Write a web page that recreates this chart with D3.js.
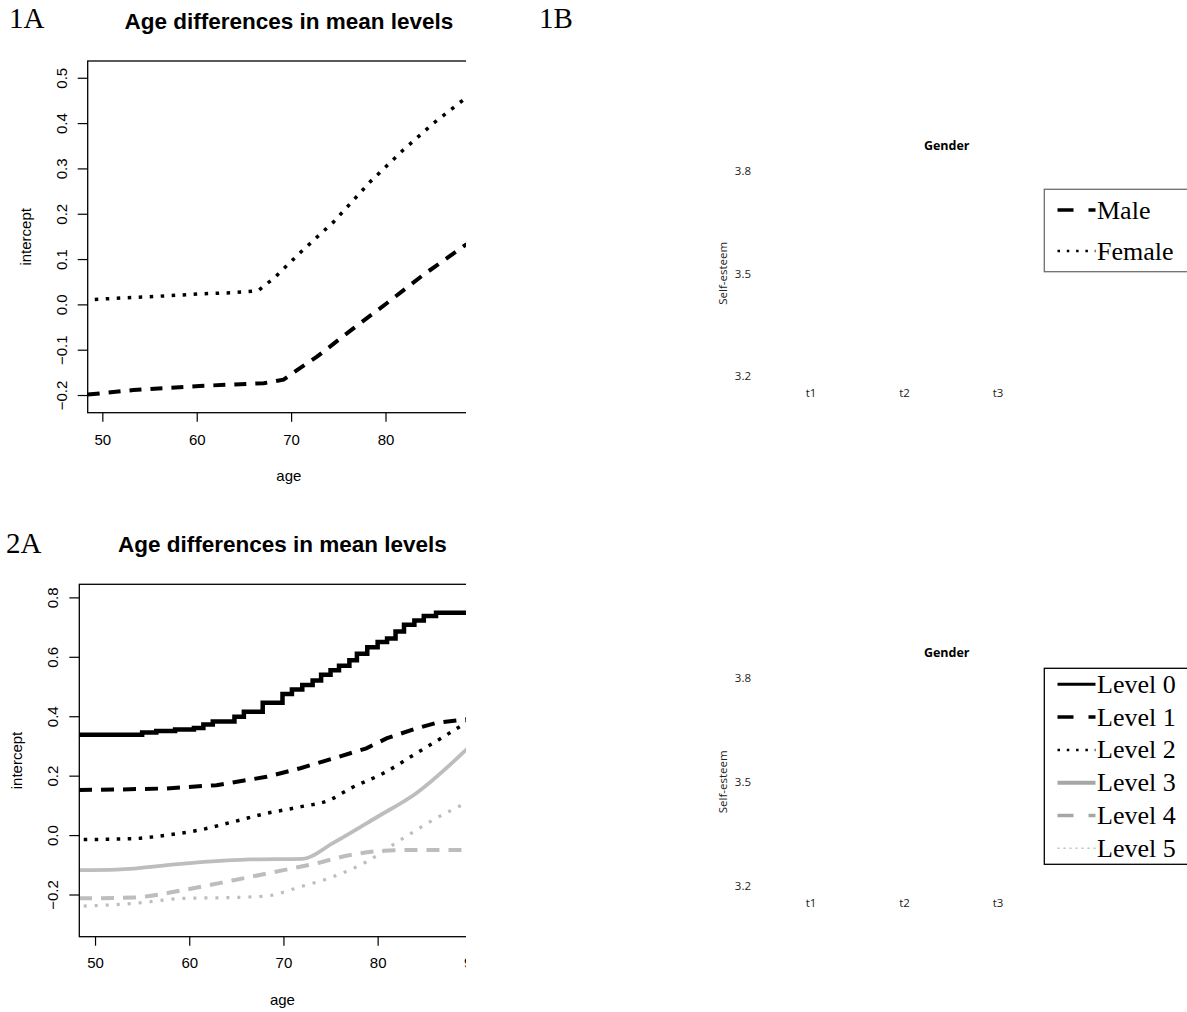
<!DOCTYPE html>
<html>
<head>
<meta charset="utf-8">
<script src="https://cdn.jsdelivr.net/npm/d3@7"></script>
<style>
  body { margin: 0; background: #fff; }
  svg { display: block; }
</style>
</head>
<body>
<svg id="fig" width="1187" height="1012"></svg>
<script>
// 1A: intercept by age, by gender
const femaleAges = [49.2, 52, 56, 60.3, 64, 66.5, 68.3, 70.9, 74.5, 78.4, 81.9, 85.1, 88.6];
const femaleVals = [0.011, 0.014, 0.018, 0.023, 0.026, 0.030, 0.060, 0.113, 0.182, 0.271, 0.341, 0.400, 0.457];
const maleAges = [48.45, 53.3, 60.3, 67.1, 69.2, 70.9, 72.7, 76.6, 80.1, 84.0, 88.6];
const maleVals = [-0.199, -0.189, -0.180, -0.174, -0.166, -0.141, -0.116, -0.053, 0.002, 0.065, 0.133];

// 2A: intercept by age, by level
const level0Ages = [48.3, 55, 56.5, 58.5, 60.5, 61.5, 62.5, 64.8, 65.8, 67.8, 69.9, 70.9, 72.0, 73.1, 74.0,
  75.0, 75.9, 77.0, 77.8, 78.9, 80.0, 81.0, 81.9, 82.8, 83.9, 84.9, 86.2, 89.5];
const level0Vals = [0.338, 0.345, 0.350, 0.355, 0.360, 0.372, 0.382, 0.398, 0.415, 0.445, 0.475, 0.490, 0.505, 0.520, 0.540,
  0.555, 0.570, 0.588, 0.610, 0.632, 0.650, 0.662, 0.685, 0.708, 0.722, 0.737, 0.748, 0.752];
const level1Ages = [48.3, 52, 57.6, 62.9, 68.2, 71.8, 75.3, 78.8, 81.0, 84.1, 86.3, 89.5];
const level1Vals = [0.152, 0.153, 0.157, 0.168, 0.196, 0.225, 0.258, 0.292, 0.326, 0.359, 0.378, 0.390];
const level2Ages = [48.8, 54.1, 57.6, 61.1, 64.7, 68.2, 71.8, 74.9, 77.1, 80.6, 84.1, 87.0, 89.5];
const level2Vals = [-0.015, -0.012, 0.0, 0.017, 0.045, 0.073, 0.095, 0.118, 0.157, 0.208, 0.275, 0.331, 0.380];
const level3Ages = [48.3, 52.3, 59.7, 66.5, 72.0, 75.3, 79.9, 84.1, 89.5];
const level3Vals = [-0.118, -0.116, -0.095, -0.082, -0.080, -0.026, 0.060, 0.141, 0.290];
const level4Ages = [48.3, 54.1, 59.4, 64.7, 70.0, 73.5, 77.1, 80.6, 84.1, 89.5];
const level4Vals = [-0.213, -0.210, -0.185, -0.152, -0.118, -0.095, -0.067, -0.053, -0.050, -0.050];
const level5Ages = [48.8, 54.1, 59.4, 64.7, 68.2, 71.8, 75.3, 78.8, 82.4, 85.9, 89.5];
const level5Vals = [-0.239, -0.230, -0.213, -0.210, -0.205, -0.174, -0.140, -0.090, -0.017, 0.051, 0.110];

// 1B / 2B: empty excel charts, only labels left
const esteemTicks = [3.2, 3.5, 3.8];
const waves = ['t1', 't2', 't3'];
const genderLegend = ['Male', 'Female'];
const levelLegend = ['Level 0', 'Level 1', 'Level 2', 'Level 3', 'Level 4', 'Level 5'];

const rFont = '"Liberation Sans", Arial, sans-serif';
const xlFont = '"Open Sans", "Noto Sans", sans-serif';
const serif = '"Liberation Serif", "Times New Roman", serif';
const gray = '#bdbdbd';

const svg = d3.select('#fig');
svg.append('defs').append('clipPath').attr('id', 'leftClip')
  .append('rect').attr('x', 0).attr('y', 0).attr('width', 466).attr('height', 1012);

// panel letters
[['1A', 9, 28], ['1B', 539, 28], ['2A', 6, 553]].forEach(([t, x, y]) => {
  svg.append('text').attr('x', x).attr('y', y)
    .style('font-family', serif).style('font-size', '29px').text(t);
});

// R style panel, right side got cut off in the original figure
function agePanel(opt) {
  const g = svg.append('g').attr('clip-path', 'url(#leftClip)');
  const x = d3.scaleLinear().domain(opt.xDomain).range(opt.xRange);
  const y = d3.scaleLinear().domain(opt.yDomain).range(opt.yRange);
  const mid = (opt.xRange[0] + opt.xRange[1]) / 2;

  g.append('text').attr('x', mid).attr('y', opt.yRange[1] - 32)
    .attr('text-anchor', 'middle')
    .style('font-family', rFont).style('font-size', '22.5px').style('font-weight', 'bold')
    .text('Age differences in mean levels');

  const line = d3.line().x(d => x(d[0])).y(d => y(d[1]));
  opt.series.forEach(s => {
    g.append('path')
      .datum(d3.zip(s.ages, s.vals))
      .attr('d', line.curve(s.curve || d3.curveLinear))
      .attr('fill', 'none')
      .attr('stroke', s.color)
      .attr('stroke-width', s.width)
      .attr('stroke-dasharray', s.dash || null);
  });

  g.append('rect')
    .attr('x', opt.xRange[0]).attr('y', opt.yRange[1])
    .attr('width', opt.xRange[1] - opt.xRange[0])
    .attr('height', opt.yRange[0] - opt.yRange[1])
    .attr('fill', 'none').attr('stroke', '#000').attr('stroke-width', 1.3);

  const xa = g.append('g')
    .attr('transform', `translate(0,${opt.yRange[0]})`)
    .call(d3.axisBottom(x).tickValues(opt.xTicks).tickSize(9).tickFormat(d3.format('d')));
  xa.select('.domain').remove();
  xa.selectAll('line').attr('stroke', '#000').attr('stroke-width', 1.2);
  xa.selectAll('text').attr('y', opt.xLabOff).attr('dy', '0.71em')
    .style('font-family', rFont).style('font-size', '15px').attr('fill', '#000');

  const ya = g.append('g')
    .attr('transform', `translate(${opt.xRange[0]},0)`)
    .call(d3.axisLeft(y).tickValues(opt.yTicks).tickSize(10).tickFormat(d3.format('.1f')));
  ya.select('.domain').remove();
  ya.selectAll('line').attr('stroke', '#000').attr('stroke-width', 1.2);
  ya.selectAll('text')
    .attr('x', 0).attr('y', -21).attr('dy', 0)
    .attr('transform', 'rotate(-90)')
    .attr('text-anchor', 'middle')
    .style('font-family', rFont).style('font-size', '15px').attr('fill', '#000');

  g.append('text').attr('x', mid).attr('y', opt.ageY)
    .attr('text-anchor', 'middle')
    .style('font-family', rFont).style('font-size', '15px').text('age');
  g.append('text')
    .attr('transform', `translate(${opt.interceptX},${(opt.yRange[0] + opt.yRange[1]) / 2}) rotate(-90)`)
    .attr('text-anchor', 'middle')
    .style('font-family', rFont).style('font-size', '15px').text('intercept');
}

agePanel({
  xDomain: [48.45, 91.07], xRange: [87.7, 490],
  yDomain: [-0.239, 0.537], yRange: [412.7, 61],
  xTicks: [50, 60, 70, 80],
  yTicks: [-0.2, -0.1, 0, 0.1, 0.2, 0.3, 0.4, 0.5],
  xLabOff: 22, ageY: 481, interceptX: 31,
  series: [
    { ages: femaleAges, vals: femaleVals, color: '#000', width: 3.5, dash: '3.5,7.5' },
    { ages: maleAges, vals: maleVals, color: '#000', width: 4, dash: '12,9' }
  ]
});

agePanel({
  xDomain: [48.33, 91.45], xRange: [79.3, 485.5],
  yDomain: [-0.342, 0.844], yRange: [936.7, 584.3],
  xTicks: [50, 60, 70, 80, 90],
  yTicks: [-0.2, 0, 0.2, 0.4, 0.6, 0.8],
  xLabOff: 21, ageY: 1005, interceptX: 22,
  series: [
    { ages: level5Ages, vals: level5Vals, color: gray, width: 3.2, dash: '3,8', curve: d3.curveMonotoneX },
    { ages: level4Ages, vals: level4Vals, color: gray, width: 4, dash: '13,9', curve: d3.curveMonotoneX },
    { ages: level3Ages, vals: level3Vals, color: gray, width: 3.8, curve: d3.curveMonotoneX },
    { ages: level2Ages, vals: level2Vals, color: '#000', width: 3.5, dash: '3.5,7.5', curve: d3.curveMonotoneX },
    { ages: level1Ages, vals: level1Vals, color: '#000', width: 4, dash: '13,9' },
    { ages: level0Ages, vals: level0Vals, color: '#000', width: 4.5, curve: d3.curveStepAfter }
  ]
});

// Excel style empty panels with legend
function esteemPanel(opt) {
  const g = svg.append('g');
  const y = d3.scaleLinear().domain([3.2, 3.8]).range(opt.yRange);
  const x = d3.scalePoint().domain(waves).range([810.5, 997.5]);

  g.append('text').attr('x', 946.7).attr('y', opt.titleY)
    .attr('text-anchor', 'middle')
    .style('font-family', xlFont).style('font-size', '12.5px').style('font-weight', 'bold')
    .text('Gender');

  const ya = g.append('g').attr('transform', 'translate(751,0)')
    .call(d3.axisLeft(y).tickValues(esteemTicks).tickSize(0).tickPadding(0).tickFormat(d3.format('.1f')));
  ya.select('.domain').remove();
  ya.selectAll('text').style('font-family', xlFont).style('font-size', '11.5px').attr('fill', '#222');

  const xa = g.append('g').attr('transform', `translate(0,${opt.xLabY})`)
    .call(d3.axisBottom(x).tickSize(0).tickPadding(0));
  xa.select('.domain').remove();
  xa.selectAll('text').attr('y', 0).attr('dy', '0.35em')
    .style('font-family', xlFont).style('font-size', '11.5px').attr('fill', '#222');

  g.append('text')
    .attr('transform', `translate(727,${(opt.yRange[0] + opt.yRange[1]) / 2}) rotate(-90)`)
    .attr('text-anchor', 'middle')
    .style('font-family', xlFont).style('font-size', '11.5px').attr('fill', '#222')
    .text('Self-esteem');

  g.append('rect')
    .attr('x', 1044.3).attr('y', opt.legend.top)
    .attr('width', 170).attr('height', opt.legend.height)
    .attr('fill', '#fff').attr('stroke', opt.legend.border).attr('stroke-width', 1.3);

  const ly = d3.scalePoint().domain(opt.legend.labels).range(opt.legend.rows);
  const items = g.selectAll('.legend-item')
    .data(opt.legend.labels.map((label, i) => ({ label, style: opt.legend.styles[i] })))
    .enter()
      .append('g')
      .attr('class', 'legend-item')
      .attr('transform', d => `translate(0,${ly(d.label)})`);

  items.append('line')
    .attr('x1', 1057.5).attr('x2', 1095.5).attr('y1', 0).attr('y2', 0)
    .attr('stroke', d => d.style.color)
    .attr('stroke-width', d => d.style.width)
    .attr('stroke-dasharray', d => d.style.dash || null);

  items.append('text')
    .attr('x', 1097).attr('y', 0).attr('dy', '0.33em')
    .style('font-family', serif).style('font-size', '26px')
    .text(d => d.label);
}

const dashBlack = { color: '#000', width: 3.5, dash: '16,15' };
const dotBlack = { color: '#000', width: 2.5, dash: '2.5,6.8' };

esteemPanel({
  yRange: [376, 170.7], titleY: 149.5, xLabY: 393.3,
  legend: {
    top: 189.3, height: 82.4, border: '#6e6e6e',
    labels: genderLegend, rows: [210, 251],
    styles: [dashBlack, dotBlack]
  }
});

esteemPanel({
  yRange: [886, 677.7], titleY: 656.8, xLabY: 902.7,
  legend: {
    top: 668.3, height: 196, border: '#000',
    labels: levelLegend, rows: [684.3, 848.3],
    styles: [
      { color: '#000', width: 3 },
      dashBlack,
      dotBlack,
      { color: '#a6a6a6', width: 4 },
      { color: '#a6a6a6', width: 3.5, dash: '16,15' },
      { color: '#bfbfbf', width: 1.5, dash: '2,4' }
    ]
  }
});
</script>
</body>
</html>
